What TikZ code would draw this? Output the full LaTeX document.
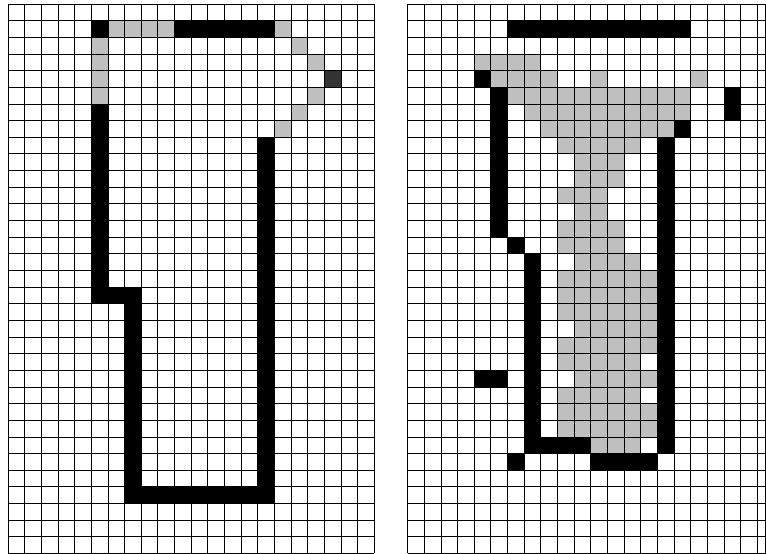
\documentclass[tikz,border=0pt]{standalone}
\usepackage{tikz}
\begin{document}
\begin{tikzpicture}[x=0.5cm, y=-0.5cm,
    gridline/.style={draw=black, line width=0.6pt},
    blk/.style={fill=black},
    gry/.style={fill=black!25},
    drk/.style={fill=black!80}
  ]
  \useasboundingbox (-0.48,-0.24) rectangle (45.53,33.03);

  % left panel
  \begin{scope}
    \fill[blk] (5,1) rectangle (6,2);
    \fill[gry] (6,1) rectangle (10,2);
    \fill[blk] (10,1) rectangle (16,2);
    \fill[gry] (5,2) rectangle (6,6);
    \foreach \c/\r in {16/1, 17/2, 18/3, 18/5, 17/6, 16/7}
      \fill[gry] (\c,\r) rectangle ++(1,1);
    \fill[drk] (19,4) rectangle (20,5);
    \fill[blk] (5,6) rectangle (6,18);
    \fill[blk] (6,17) rectangle (7,18);
    \fill[blk] (7,17) rectangle (8,30);
    \fill[blk] (8,29) rectangle (16,30);
    \fill[blk] (15,8) rectangle (16,29);
    \foreach \i in {0,...,22}
      \draw[gridline] (\i,0) -- (\i,33);
    \foreach \j in {0,...,33}
      \draw[gridline] (0,\j) -- (22,\j);
  \end{scope}

  % right panel
  \begin{scope}[xshift=12cm]
    % gray rows: row / first col / last col + 1
    \foreach \r/\a/\b in {3/4/8, 4/5/9, 5/6/17, 6/7/17, 7/8/16, 8/9/14,
        9/10/13, 10/10/13, 11/9/12, 12/10/12, 13/9/13, 14/9/13, 15/10/14,
        16/9/15, 17/9/15, 18/9/15, 19/10/15, 20/9/15, 21/9/14, 22/10/15,
        23/9/14, 24/9/15, 25/9/15, 26/11/14}
      \fill[gry] (\a,\r) rectangle (\b,\r+1);
    \foreach \c/\r in {11/4, 17/4}
      \fill[gry] (\c,\r) rectangle ++(1,1);
    \fill[blk] (6,1) rectangle (17,2);
    \fill[blk] (4,4) rectangle (5,5);
    \fill[blk] (5,5) rectangle (6,14);
    \fill[blk] (6,14) rectangle (7,15);
    \fill[blk] (7,15) rectangle (8,27);
    \fill[blk] (8,26) rectangle (11,27);
    \fill[blk] (6,27) rectangle (7,28);
    \fill[blk] (11,27) rectangle (15,28);
    \fill[blk] (15,8) rectangle (16,27);
    \fill[blk] (16,7) rectangle (17,8);
    \fill[blk] (19,5) rectangle (20,7);
    \fill[blk] (4,22) rectangle (6,23);
    \foreach \i in {0,...,21}
      \draw[gridline] (\i,0) -- (\i,33);
    \draw[gridline] (21.5,0) -- (21.5,33);
    \foreach \j in {0,...,33}
      \draw[gridline] (0,\j) -- (21.5,\j);
  \end{scope}
\end{tikzpicture}
\end{document}
